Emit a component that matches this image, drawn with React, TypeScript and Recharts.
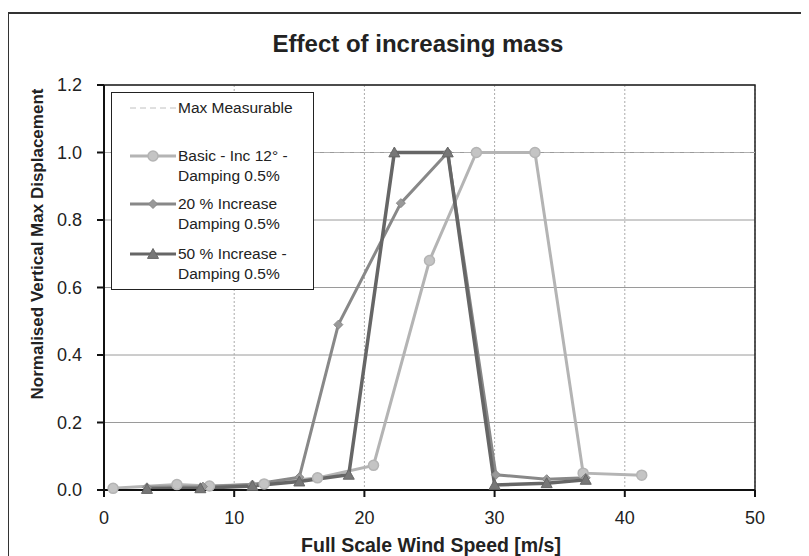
import React from "react";
import {
  LineChart,
  Line,
  XAxis,
  YAxis,
  CartesianGrid,
  ReferenceArea,
} from "recharts";

// Wind speed [m/s] vs normalised vertical max displacement
const maxX = [0, 50];
const maxY = [1.0, 1.0];

const basicX = [0.7, 5.6, 8.1, 12.3, 16.4, 20.7, 25.0, 28.6, 33.1, 36.8, 41.3];
const basicY = [0.005, 0.016, 0.012, 0.018, 0.036, 0.073, 0.68, 1.0, 1.0, 0.05, 0.044];

const inc20X = [3.3, 7.6, 11.4, 15.0, 18.0, 22.8, 26.4, 30.1, 34.0, 37.0];
const inc20Y = [0.008, 0.01, 0.016, 0.038, 0.49, 0.85, 1.0, 0.045, 0.032, 0.036];

const inc50X = [3.3, 7.4, 11.4, 15.0, 18.8, 22.3, 26.4, 30.0, 34.0, 37.0];
const inc50Y = [0.003, 0.005, 0.012, 0.025, 0.045, 1.0, 1.0, 0.015, 0.02, 0.03];

const xTicks = [0, 10, 20, 30, 40, 50];
const yTicks = [0, 0.2, 0.4, 0.6, 0.8, 1.0, 1.2];

const zip = (xs: number[], ys: number[]) => xs.map((x, i) => ({ x, y: ys[i] }));

const maxData = zip(maxX, maxY);
const basicData = zip(basicX, basicY);
const inc20Data = zip(inc20X, inc20Y);
const inc50Data = zip(inc50X, inc50Y);

const C_BASIC = "#b4b4b4";
const C_20 = "#888888";
const C_50 = "#666666";
const FONT = "'Liberation Sans', Arial, sans-serif";

function Circle(p: any) {
  return <circle key={p.index} cx={p.cx} cy={p.cy} r={5} fill="#c4c4c4" stroke={C_BASIC} strokeWidth={1.5} />;
}

function Diamond(p: any) {
  const { cx, cy } = p;
  const s = 4.5;
  return (
    <path
      key={p.index}
      d={`M${cx},${cy - s} L${cx + s},${cy} L${cx},${cy + s} L${cx - s},${cy} Z`}
      fill="#999"
      stroke={C_20}
      strokeWidth={1}
    />
  );
}

function Triangle(p: any) {
  const { cx, cy } = p;
  const s = 5.5;
  return (
    <path
      key={p.index}
      d={`M${cx},${cy - s} L${cx + s},${cy + s * 0.8} L${cx - s},${cy + s * 0.8} Z`}
      fill="#777"
      stroke={C_50}
      strokeWidth={1}
    />
  );
}

// legend box in the Excel style: line sample + two-line labels
function LegendBox() {
  const text: React.CSSProperties = {
    position: "absolute",
    left: 66,
    fontSize: 15.5,
    color: "#222",
    lineHeight: "19.5px",
    whiteSpace: "nowrap",
  };
  const sample = (top: number, color: string, marker: React.ReactNode, dashed = false) => (
    <svg style={{ position: "absolute", left: 16, top: top - 8 }} width={50} height={16}>
      <line x1={2} x2={48} y1={8} y2={8} stroke={color} strokeWidth={dashed ? 1 : 3} strokeDasharray={dashed ? "6 4" : undefined} />
      {marker}
    </svg>
  );
  return (
    <div
      style={{
        position: "absolute",
        left: 111,
        top: 92,
        width: 201,
        height: 196,
        border: "1px solid #222",
        background: "#fff",
        fontFamily: FONT,
      }}
    >
      {sample(15, "#c0c0c0", null, true)}
      <div style={{ ...text, top: 5 }}>Max Measurable</div>

      {sample(63, C_BASIC, <Circle cx={25} cy={8} index={0} />)}
      <div style={{ ...text, top: 53 }}>
        Basic - Inc 12° -<br />Damping 0.5%
      </div>

      {sample(111, C_20, <Diamond cx={25} cy={8} index={0} />)}
      <div style={{ ...text, top: 101 }}>
        20 % Increase<br />Damping 0.5%
      </div>

      {sample(161, C_50, <Triangle cx={25} cy={8} index={0} />)}
      <div style={{ ...text, top: 151 }}>
        50 % Increase -<br />Damping 0.5%
      </div>
    </div>
  );
}

export default function App() {
  return (
    <div
      style={{
        position: "relative",
        width: 809,
        height: 556,
        margin: "-8px -8px 0 -8px",
        overflow: "hidden",
        background: "#fff",
        fontFamily: FONT,
      }}
    >
      <div
        style={{
          position: "absolute",
          left: 7,
          top: 12,
          width: 795,
          height: 600,
          border: "2px solid #333",
        }}
      />
      <div
        style={{
          position: "absolute",
          top: 30,
          left: 0,
          width: 836,
          textAlign: "center",
          fontSize: 24,
          fontWeight: "bold",
          color: "#222",
        }}
      >
        Effect of increasing mass
      </div>
      <div
        style={{
          position: "absolute",
          left: 38,
          top: 244,
          transform: "translate(-50%, -50%) rotate(-90deg)",
          fontSize: 17,
          fontWeight: "bold",
          color: "#222",
          whiteSpace: "nowrap",
        }}
      >
        Normalised Vertical Max Displacement
      </div>

      <div style={{ position: "absolute", left: 0, top: 0 }}>
        <LineChart width={809} height={556} margin={{ top: 85, right: 54, bottom: 0, left: 0 }}>
          <CartesianGrid horizontal={true} vertical={false} stroke="#9a9a9a" />
          <CartesianGrid horizontal={false} vertical={true} stroke="#aaa" strokeDasharray="2 2" />
          <XAxis
            dataKey="x"
            type="number"
            domain={[0, 50]}
            ticks={xTicks}
            height={66}
            tickSize={7}
            tickMargin={14}
            stroke="#111"
            strokeWidth={2}
            tick={{ fill: "#222", fontSize: 18, fontFamily: FONT }}
            allowDuplicatedCategory={false}
          />
          <YAxis
            type="number"
            domain={[0, 1.2]}
            ticks={yTicks}
            width={104}
            tickSize={7}
            tickMargin={15}
            stroke="#111"
            strokeWidth={2}
            tickFormatter={(v: number) => v.toFixed(1)}
            tick={{ fill: "#222", fontSize: 18, fontFamily: FONT }}
          />
          <ReferenceArea x1={0} x2={50} y1={0} y2={1.2} fill="none" stroke="#222" strokeWidth={1.5} />
          <Line
            data={maxData}
            dataKey="y"
            stroke="#b0b0b0"
            strokeWidth={1}
            strokeDasharray="6 4"
            dot={false}
            isAnimationActive={false}
          />
          <Line
            data={basicData}
            dataKey="y"
            stroke={C_BASIC}
            strokeWidth={3}
            dot={Circle}
            isAnimationActive={false}
          />
          <Line
            data={inc20Data}
            dataKey="y"
            stroke={C_20}
            strokeWidth={3}
            dot={Diamond}
            isAnimationActive={false}
          />
          <Line
            data={inc50Data}
            dataKey="y"
            stroke={C_50}
            strokeWidth={3.5}
            dot={Triangle}
            isAnimationActive={false}
          />
        </LineChart>
      </div>

      <LegendBox />

      <div
        style={{
          position: "absolute",
          top: 534,
          left: 0,
          width: 862,
          textAlign: "center",
          fontSize: 19.5,
          fontWeight: "bold",
          color: "#222",
        }}
      >
        Full Scale Wind Speed [m/s]
      </div>
    </div>
  );
}
